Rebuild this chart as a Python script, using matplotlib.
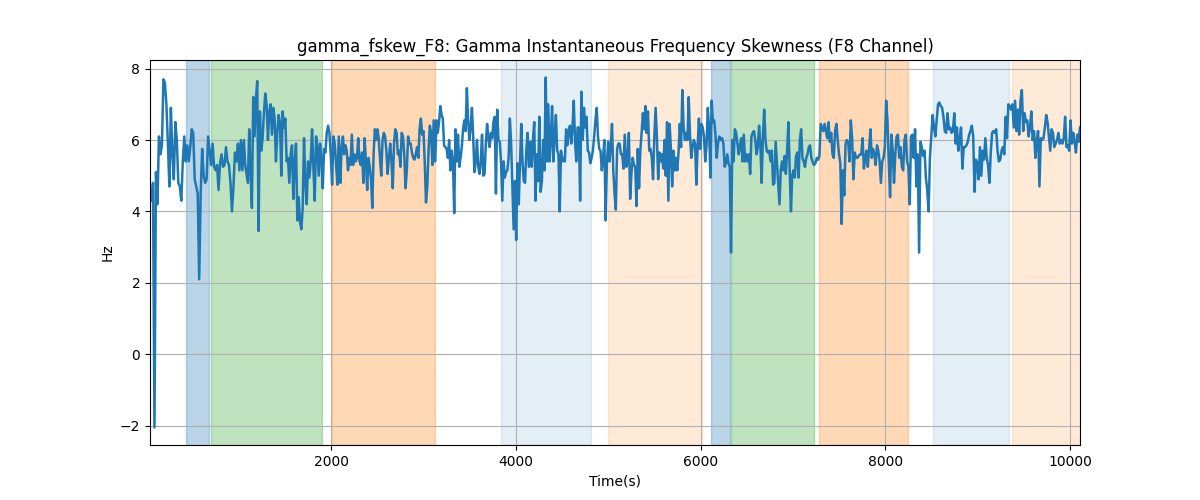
import numpy as np
import matplotlib
matplotlib.use("Agg")
import matplotlib.pyplot as plt

# ── data (in pieces along the time axis) ────────────────────────────────────
seg1_t = (40, 1040)
seg1 = [4.4, 4.3, 4.8, -2.05, 5.1, 4.2, 6.1, 5.6, 5.85, 7.7, 7.6, 7.0, 5.9, 4.7,
        6.9, 5.6, 4.9, 6.5, 6.0, 4.8, 4.7, 4.3, 5.4, 6.1, 5.4, 5.85, 5.4, 5.8,
        6.3, 6.2, 4.9, 4.7, 4.5, 2.1, 4.5, 5.75, 5.0, 4.8, 4.9, 6.1, 5.7, 5.3,
        5.9, 5.25, 5.15, 5.3, 4.6, 5.35, 5.6, 5.25, 5.3, 5.8, 5.4, 5.3, 4.8,
        4.0, 4.7, 5.65, 5.4, 5.9, 5.15, 6.0, 5.15]

seg2_t = (1056, 2083)
seg2 = [6.0, 5.3, 5.05, 4.8, 6.3, 5.05, 4.1, 7.2, 6.1, 7.15, 7.65, 3.45, 6.8,
        5.7, 6.05, 6.75, 7.3, 7.0, 6.0, 6.8, 7.0, 6.15, 6.9, 6.6, 5.4, 6.2,
        6.7, 6.5, 5.0, 6.8, 6.35, 6.6, 5.4, 5.5, 4.8, 5.6, 5.85, 4.35, 5.4,
        5.9, 3.75, 4.4, 3.7, 3.5, 4.1, 6.05, 4.8, 4.2, 5.4, 4.95, 5.4, 6.3,
        5.25, 4.3, 6.1, 5.8, 5.0, 5.9, 5.5, 4.65, 5.75, 5.65, 6.2, 6.4, 6.2,
        5.6, 4.75, 6.1, 5.9, 5.3, 4.75, 6.1]

seg3_t = (2100, 3110)
seg3 = [4.8, 5.8, 6.1, 5.6, 5.85, 5.7, 5.15, 5.5, 5.3, 6.15, 5.3, 5.6, 5.4,
        5.5, 6.05, 5.4, 5.3, 5.65, 4.8, 6.05, 5.4, 4.6, 5.5, 5.25, 4.9, 4.1,
        5.6, 6.3, 6.0, 6.3, 6.05, 5.5, 5.0, 6.0, 6.2, 6.1, 5.7, 5.05, 5.5,
        5.9, 5.4, 4.65, 5.9, 6.3, 6.2, 5.6, 5.7, 5.25, 6.2, 6.1, 5.6, 4.65,
        5.15, 6.1, 5.9, 5.9, 5.65, 5.5, 5.45, 5.6, 5.8, 5.5, 6.3, 6.6, 6.15,
        6.25, 5.4, 4.25, 4.7, 5.7, 6.4, 6.2, 5.3, 6.55]

seg4_t = (3127, 4140)
seg4 = [5.4, 6.55, 6.2, 6.5, 6.95, 6.7, 6.6, 5.85, 5.8, 5.75, 5.5, 6.0, 5.15,
        5.7, 5.4, 3.95, 6.3, 5.4, 6.15, 5.25, 5.5, 5.8, 6.3, 6.55, 6.25, 7.45,
        6.55, 6.0, 6.35, 6.9, 6.1, 5.1, 5.4, 6.0, 5.25, 5.05, 5.4, 6.15, 5.0,
        5.05, 5.9, 6.45, 6.05, 5.8, 6.2, 6.05, 6.5, 6.65, 4.5, 6.85, 6.0, 5.95,
        5.4, 4.3, 5.4, 4.95, 5.1, 5.15, 5.5, 6.6, 5.9, 4.75, 3.5, 4.85, 3.2,
        5.35, 4.2, 5.35, 6.45, 5.4, 4.85, 4.8, 5.7, 6.2, 5.25]

seg5_t = (4157, 5178)
seg5 = [5.95, 5.25, 6.0, 6.5, 4.3, 5.6, 4.85, 6.65, 4.55, 4.85, 6.0, 5.15,
        7.75, 5.4, 7.0, 5.4, 6.0, 6.95, 5.4, 6.1, 6.7, 5.7, 5.6, 4.0, 5.7, 5.4,
        5.5, 5.4, 6.3, 5.85, 6.25, 6.4, 5.9, 6.35, 7.1, 5.95, 5.4, 6.35, 6.35,
        4.3, 7.35, 6.0, 6.9, 6.35, 6.65, 5.7, 5.65, 5.35, 5.5, 5.7, 6.1, 6.55,
        6.9, 6.1, 5.75, 5.7, 5.15, 5.5, 6.0, 3.75, 5.35, 5.95, 5.4, 5.8, 6.45,
        5.15, 4.5, 4.05, 5.75, 5.9, 5.9, 5.6, 5.6, 5.2, 6.15]

seg6_t = (5195, 6201)
seg6 = [5.25, 5.4, 6.2, 4.35, 5.05, 5.5, 5.3, 5.25, 4.15, 5.75, 4.65, 5.7, 6.2,
        6.75, 6.3, 6.95, 6.2, 6.8, 5.7, 5.75, 5.5, 4.9, 6.1, 6.9, 6.1, 4.9,
        5.65, 5.4, 5.6, 5.2, 6.0, 5.0, 6.5, 4.3, 6.45, 5.75, 4.7, 5.7, 5.15,
        5.5, 5.15, 5.65, 6.45, 5.8, 7.4, 6.35, 6.0, 6.2, 6.0, 7.2, 6.15, 5.5,
        5.8, 6.0, 5.9, 4.75, 5.8, 6.6, 5.75, 6.45, 6.35, 6.1, 5.4, 5.85, 6.9,
        6.3, 4.95, 7.1, 6.5, 6.55, 6.15, 5.5, 5.9, 6.1]

seg7_t = (6218, 7225)
seg7 = [6.0, 6.05, 5.9, 5.25, 5.35, 5.6, 5.35, 5.25, 2.85, 6.0, 5.4, 6.3, 6.2,
        5.9, 5.6, 5.85, 6.05, 5.4, 6.15, 5.4, 5.6, 5.4, 5.6, 5.05, 6.1, 6.2,
        6.25, 6.0, 5.6, 5.8, 6.4, 5.9, 4.8, 6.1, 6.85, 6.0, 5.7, 5.65, 5.7,
        5.4, 5.7, 4.75, 4.8, 5.95, 5.35, 4.8, 4.2, 5.15, 5.4, 5.15, 5.55, 5.05,
        5.7, 6.5, 5.15, 4.0, 5.0, 5.15, 4.95, 5.55, 5.65, 4.95, 6.0, 6.3, 5.5,
        5.4, 5.25, 5.5, 5.6, 5.8, 5.85, 5.5, 5.4, 5.3]

seg8_t = (7242, 8262)
seg8 = [5.35, 5.5, 5.45, 5.55, 6.45, 6.35, 6.25, 6.45, 6.25, 6.05, 6.5, 5.95,
        6.2, 5.6, 5.5, 6.25, 6.45, 6.0, 5.6, 5.35, 3.65, 5.15, 4.45, 5.9, 6.0,
        5.95, 5.4, 6.55, 6.05, 4.9, 5.65, 5.5, 5.5, 5.55, 5.6, 5.6, 6.05, 5.2,
        5.5, 5.7, 5.25, 5.75, 6.3, 5.5, 5.75, 5.6, 5.3, 5.85, 5.7, 5.4, 4.8,
        5.4, 5.5, 5.8, 7.1, 6.55, 5.4, 4.4, 6.15, 5.7, 4.8, 5.6, 6.1, 6.15,
        5.5, 5.8, 5.25, 5.15, 6.0, 6.15, 5.4, 5.25, 4.2]

seg9_t = (8276, 10105)
seg9 = [6.1, 6.15, 5.5, 6.3, 4.7, 5.6, 2.85, 5.95, 5.8, 5.55, 5.7, 4.95, 4.6,
        4.0, 5.5, 6.1, 6.7, 6.35, 6.1, 6.55, 7.0, 7.05, 6.95, 6.9, 6.65, 6.25,
        6.2, 6.75, 6.3, 6.35, 6.2, 6.25, 6.75, 5.9, 6.35, 5.7, 6.0, 6.35, 5.2,
        5.8, 5.8, 5.85, 5.95, 6.15, 6.25, 6.4, 6.1, 4.55, 5.45, 5.35, 4.9, 5.8,
        5.0, 5.7, 5.45, 6.05, 5.5, 5.3, 4.8, 5.65, 6.2, 6.25, 6.2, 6.3, 5.7,
        5.4, 5.45, 5.7, 5.8, 5.6, 6.65, 6.05, 7.0, 6.95, 6.85, 7.0, 6.35, 7.1,
        6.25, 6.85, 6.15, 7.1, 7.4, 6.25, 6.75, 6.5, 6.55, 6.1, 6.35, 6.8, 6.0,
        6.25, 5.5, 6.0, 6.25, 4.7, 6.05, 6.0, 6.05, 6.35, 6.7, 6.5, 6.1, 5.7,
        6.3, 6.2, 5.8, 5.9, 6.0, 6.2, 5.9, 6.0, 5.9, 6.05, 6.65, 5.8, 5.85, 5.7,
        6.55, 5.9, 6.2, 5.95, 5.65, 6.15, 5.95, 6.35]

segments = [(seg1_t, seg1), (seg2_t, seg2), (seg3_t, seg3), (seg4_t, seg4),
            (seg5_t, seg5), (seg6_t, seg6), (seg7_t, seg7), (seg8_t, seg8),
            (seg9_t, seg9)]

# shaded intervals: (start, end, colour, alpha)
span_starts = [427, 699, 2011, 3844, 4993, 6111, 6328, 7282, 8518, 9364]
span_ends = [677, 1902, 3128, 4809, 6013, 6317, 7228, 8247, 9332, 10105]
span_colors = ["C0", "C2", "C1", "C0", "C1", "C0", "C2", "C1", "C0", "C1"]
span_alphas = [0.3, 0.3, 0.3, 0.12, 0.16, 0.3, 0.3, 0.3, 0.12, 0.16]

# ── build series ────────────────────────────────────────────────────────────
t_parts, v_parts = [], []
for (t0, t1), vals in segments:
    t_parts.append(np.linspace(t0, t1, len(vals)))
    v_parts.append(np.array(vals))
t = np.concatenate(t_parts)
v = np.concatenate(v_parts)

# ── plot ────────────────────────────────────────────────────────────────────
fig, ax = plt.subplots(figsize=(12, 5), dpi=100)

for s, e, c, a in zip(span_starts, span_ends, span_colors, span_alphas):
    ax.axvspan(s, e, color=c, alpha=a)

ax.plot(t, v, color="C0", linewidth=1.8)

ax.set_xlim(t[0], t[-1])
ax.set_title("gamma_fskew_F8: Gamma Instantaneous Frequency Skewness (F8 Channel)")
ax.set_xlabel("Time(s)")
ax.set_ylabel("Hz")
ax.grid(True)

fig.savefig("out.png", dpi=100)
plt.close(fig)
